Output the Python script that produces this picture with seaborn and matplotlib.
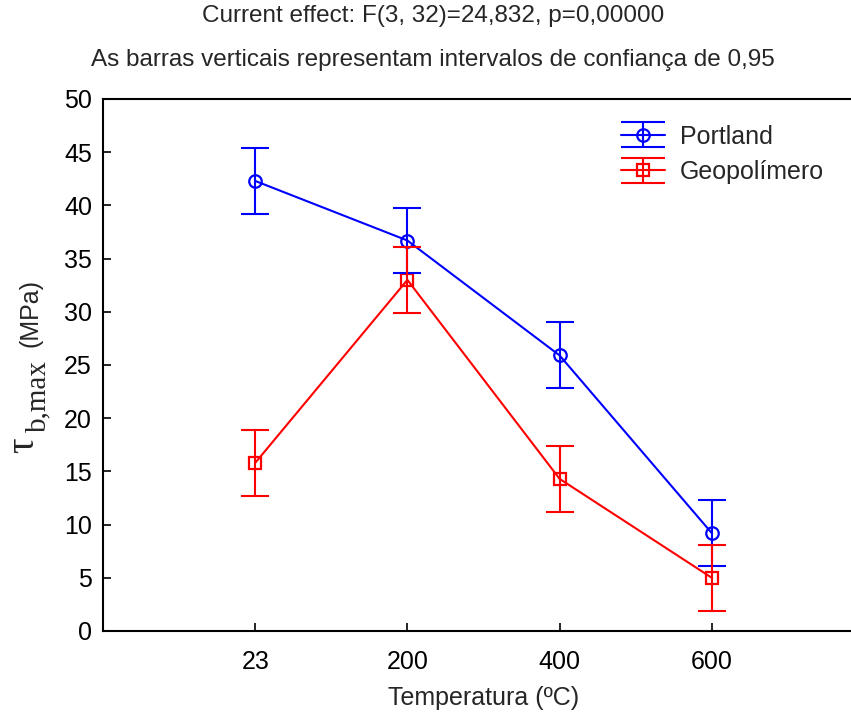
import numpy as np
import pandas as pd
import matplotlib
matplotlib.use("Agg")
import matplotlib.pyplot as plt
import seaborn as sns
from matplotlib.container import ErrorbarContainer
from matplotlib.legend_handler import HandlerErrorbar
from matplotlib.lines import Line2D

# Data
temperaturas = ["23", "200", "400", "600"]
portland = [42.3, 36.7, 25.9, 9.2]
geopolimero = [15.8, 33.0, 14.3, 5.0]
ic_portland = [3.1, 3.1, 3.1, 3.1]
ic_geopolimero = [3.1, 3.1, 3.1, 3.1]
grupos = ["Portland", "Geopolímero"]
cores = {"Portland": "#0000ff", "Geopolímero": "#ff0000"}
marcadores = {"Portland": "o", "Geopolímero": "s"}

sns.set_theme(style="white")
plt.rcParams["font.family"] = ["Liberation Sans", "DejaVu Sans"]
plt.rcParams["mathtext.fontset"] = "custom"
plt.rcParams["mathtext.rm"] = "Liberation Serif"
plt.rcParams["mathtext.it"] = "Liberation Serif:italic"


class CapLargo(HandlerErrorbar):
    """Legend entry whose caps span the whole handle width."""

    def create_artists(self, legend, orig_handle, xdescent, ydescent,
                       width, height, fontsize, trans):
        arts = super().create_artists(legend, orig_handle, xdescent, ydescent,
                                      width, height, fontsize, trans)
        for a in arts:
            if isinstance(a, Line2D) and a.get_marker() == "_":
                a.set_markersize(width)
        return arts


df = pd.DataFrame({
    "pos": list(range(len(temperaturas))) * 2,
    "tau": portland + geopolimero,
    "ic": ic_portland + ic_geopolimero,
    "grupo": ["Portland"] * len(temperaturas) + ["Geopolímero"] * len(temperaturas),
})

fig = plt.figure(figsize=(8.51, 7.22), dpi=100)
ax = fig.add_axes([103 / 851, 1 - 631 / 722, (864 - 103) / 851, (631 - 99) / 722])

sns.lineplot(data=df, x="pos", y="tau", hue="grupo", style="grupo",
             palette=cores, markers=marcadores, dashes=False, legend=False,
             linewidth=1.5, markersize=9, ax=ax)

# hollow markers in the series colour
linhas = {}
for ln in ax.lines:
    for g in grupos:
        if ln.get_marker() == marcadores[g]:
            ln.set_markerfacecolor("none")
            ln.set_markeredgecolor(cores[g])
            ln.set_markeredgewidth(1.6)
            linhas[g] = ln

barras = {}
for g in grupos:
    sub = df[df["grupo"] == g]
    barras[g] = ax.errorbar(sub["pos"], sub["tau"], yerr=sub["ic"], fmt="none",
                            ecolor=cores[g], elinewidth=1.5, capsize=10,
                            capthick=1.5)

ax.set_xlim(-1, 4)
ax.set_ylim(0, 50)
ax.set_xticks(range(len(temperaturas)))
ax.set_xticklabels(temperaturas)
ax.set_yticks(np.arange(0, 51, 5))
ax.tick_params(axis="both", direction="in", length=6, width=1.2, labelsize=18,
               colors="black", left=True, bottom=True)
ax.tick_params(axis="x", pad=14)
ax.tick_params(axis="y", pad=8)
for s in ["left", "bottom", "top", "right"]:
    ax.spines[s].set_color("black")
    ax.spines[s].set_linewidth(1.5)

ax.set_xlabel("Temperatura (ºC)", fontsize=18, labelpad=8)
ax.set_ylabel("")

# y-axis title: serif tau with its subscript, then the unit in sans
rot = dict(rotation=90, rotation_mode="anchor", ha="center", va="baseline")
fig.text(34 / 851, 1 - 446 / 722, r"$\mathrm{\tau}$", fontsize=28, **rot)
fig.text(45 / 851, 1 - 396 / 722, "b,max", fontsize=21,
         family="Liberation Serif", **rot)
fig.text(37 / 851, 1 - 313 / 722, "(MPa)", fontsize=18, **rot)

fig.text(433 / 851, 1 - 16 / 722, "Current effect: F(3, 32)=24,832, p=0,00000",
         ha="center", va="center", fontsize=17.5)
fig.text(433 / 851, 1 - 60 / 722,
         "As barras verticais representam intervalos de confiança de 0,95",
         ha="center", va="center", fontsize=17.5)

fig.legend([(linhas[g], barras[g]) for g in grupos], grupos, loc="upper left",
           bbox_to_anchor=(598 / 851, 1 - 102 / 722), frameon=False,
           fontsize=18, handlelength=1.76, labelspacing=0.45, handletextpad=0.6,
           handler_map={ErrorbarContainer: CapLargo()})

fig.savefig("out.png", dpi=100)
